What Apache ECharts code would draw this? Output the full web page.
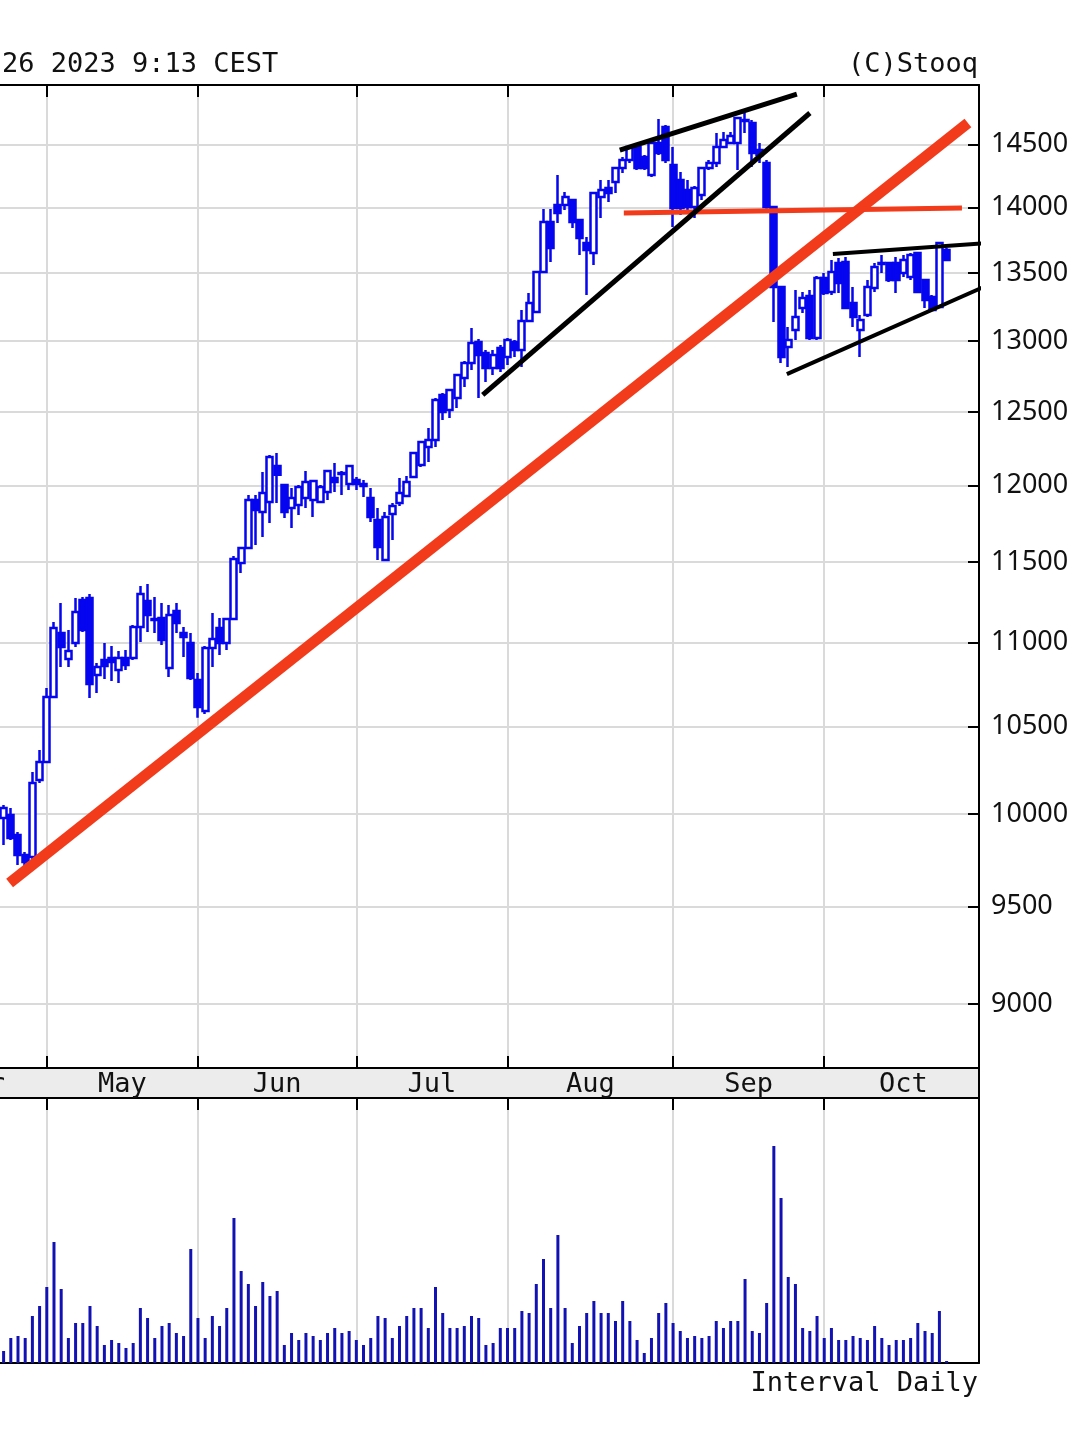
<!DOCTYPE html>
<html><head><meta charset="utf-8">
<script src="https://cdn.jsdelivr.net/npm/echarts@6/dist/echarts.min.js"></script>
<style>html,body{margin:0;padding:0;background:#fff}#c{width:1080px;height:1447px}</style>
</head><body><div id="c"></div>
<script>
// ---------- data ----------
const dates = [
'04-21','04-24','04-25','04-26','04-27','04-28',
'05-02','05-04','05-05','05-08','05-09','05-10','05-11','05-12','05-15','05-16','05-17','05-18','05-19','05-22','05-23','05-24','05-25','05-26','05-29','05-30','05-31',
'06-01','06-02','06-05','06-06','06-07','06-08','06-09','06-12','06-13','06-14','06-15','06-16','06-19','06-20','06-21','06-22','06-23','06-26','06-27','06-28','06-29','06-30',
'07-03','07-04','07-05','07-06','07-07','07-10','07-11','07-12','07-13','07-14','07-17','07-18','07-19','07-20','07-21','07-24','07-25','07-26','07-27','07-28','07-31',
'08-01','08-02','08-03','08-04','08-07','08-08','08-09','08-10','08-11','08-14','08-15','08-16','08-17','08-18','08-21','08-22','08-23','08-24','08-25','08-28','08-29','08-30','08-31',
'09-01','09-04','09-05','09-06','09-07','09-08','09-11','09-12','09-13','09-14','09-15','09-18','09-19','09-20','09-21','09-22','09-25','09-26','09-27','09-28','09-29',
'10-02','10-04','10-05','10-06','10-09','10-10','10-11','10-12','10-13','10-16','10-17','10-18','10-19','10-20','10-23','10-24','10-25','10-26',
'10-27','10-30','10-31','11-01'];

const open = [
9979,9996,9886,9777,9766,10192,10294,10672,11058,10899,
10997,11262,11274,10803,10893,10905,10833,10905,10905,11094,
11256,11143,11150,10845,11193,11058,10997,10773,10589,10966,
11088,10997,11143,11495,11591,11904,11825,11891,12131,12004,
11851,11871,11917,11904,11891,11957,12050,12084,12010,12037,
12010,11917,11773,11514,11812,11884,11930,12057,12137,12259,
12307,12618,12513,12597,12737,12844,12995,12915,12808,12951,
12886,12995,12937,13147,13212,13509,13889,14020,14020,14059,
13904,13727,13652,14082,14153,14200,14311,14374,14478,14398,
14255,14511,14640,14334,14216,14137,14005,14098,14311,14350,
14478,14511,14511,14697,14672,14454,14350,14005,13397,12959,
13081,13241,13330,13023,13464,13359,13576,13584,13278,13081,
13190,13389,13576,13576,13576,13501,13471,13652,13449,13322,
13249,13674];
const close = [
10034,9869,9777,9738,10175,10294,10672,11088,10972,10948,
11187,11076,10749,10851,10857,10881,10905,10863,11094,11299,
11168,11137,11015,11168,11119,11033,10785,10613,10966,11021,
10997,11143,11520,11591,11904,11838,11950,12191,12071,11825,
11917,11990,12024,12030,11990,12097,12024,12077,12131,12010,
11997,11793,11598,11793,11864,11950,12024,12218,12293,12307,
12583,12499,12653,12759,12844,12987,12901,12808,12901,12808,
13009,12937,13147,13278,13509,13889,13689,13958,14082,13889,
13765,13674,14114,14137,14114,14311,14374,14478,14311,14311,
14511,14430,14374,13997,13997,14005,14153,14311,14350,14478,
14535,14567,14713,14689,14430,14414,14005,13397,12886,13009,
13176,13315,13023,13464,13352,13509,13426,13241,13176,13154,
13397,13546,13569,13449,13449,13599,13636,13359,13300,13227,
13727,13599];
const low = [
9831,9858,9722,9706,9749,10175,10290,10665,10851,10851,
10972,11064,10666,10695,10779,10767,10755,10833,10893,11003,
11064,11058,10984,10791,11058,10911,10773,10549,10572,10851,
10923,10954,11137,11432,11585,11610,11662,11753,11884,11786,
11720,11806,11851,11793,11884,11904,11957,11937,11970,11970,
11924,11760,11514,11508,11643,11864,11924,12050,12124,12158,
12259,12444,12458,12527,12674,12794,12597,12709,12758,12780,
12829,12886,12815,13140,13205,13500,13584,13881,13981,13842,
13637,13337,13561,13919,14043,14114,14271,14350,14295,14295,
14240,14414,14350,13850,13943,13981,13919,14059,14295,14319,
14470,14503,14295,14591,14319,14350,13990,13139,12844,12815,
13009,13205,13009,13009,13337,13337,13352,13234,13103,12886,
13176,13359,13501,13434,13352,13471,13449,13352,13241,13220,
13240,13595];
const high = [
10051,10034,9902,9793,10237,10363,10725,11125,11243,11076,
11274,11281,11299,10875,10997,10978,10948,10954,11106,11349,
11362,11281,11243,11231,11243,11094,11058,10815,10978,11181,
11150,11150,11540,11598,11937,11937,12091,12205,12218,12010,
11984,12004,12097,12037,12004,12104,12151,12097,12138,12057,
12037,11984,11851,11825,11884,12050,12064,12225,12300,12389,
12597,12632,12660,12765,12858,13096,13016,12937,12937,12973,
13023,13009,13227,13352,13515,13989,13989,14255,14122,14067,
13912,13773,14120,14216,14216,14318,14398,14494,14494,14414,
14519,14705,14656,14478,14279,14216,14169,14318,14374,14591,
14599,14599,14721,14754,14697,14511,14374,14010,13400,13103,
13374,13359,13374,13479,13501,13599,13614,13621,13397,13190,
13449,13576,13636,13584,13621,13636,13652,13659,13455,13337,
13735,13689];
// relative daily volume
const volume = [
12,25,27,25,47,57,76,121,74,25,
40,40,57,37,18,23,20,15,20,55,
45,25,37,40,30,27,114,45,25,47,
37,55,145,92,79,57,81,67,72,18,
30,23,30,27,23,30,35,30,32,23,
18,25,47,45,25,37,47,55,55,35,
76,50,35,35,37,47,45,18,20,35,
35,35,52,50,79,104,55,128,55,20,
37,50,62,50,50,42,62,42,23,10,
25,50,60,40,32,25,27,25,27,42,
35,42,42,84,32,30,60,217,165,86,
79,35,32,47,25,35,23,23,27,25,
23,37,25,18,23,23,25,40,32,30,
52,2];

const priceTicks = [9000,9500,10000,10500,11000,11500,12000,12500,13000,13500,14000,14500];
const monthStartIdx = [6,27,49,70,93,114];
const monthNames = ['Apr','May','Jun','Jul','Aug','Sep','Oct'];
const monthMidIdx = [-3.5,16.5,38,59.5,81.5,103.5,125];

// hand-drawn trend lines: [day index, price]
const redTrend   = [[0.83,9626],[133.96,14672]];
const redLevel   = [[86.16,13958],[133.13,13997]];
const blackRise  = [[66.56,12618],[112.01,14754]];
const blackTop   = [[85.6,14454],[110.2,14910]];
const blackOctHi = [[115.2,13644],[137.02,13728]];
const blackOctLo = [[108.81,12765],[136.74,13411]];

// ---------- chart ----------
const L = v => Math.log10(v);
const N = dates.length;
const BLUE = '#0505f0';
const GRIDC = '#dadada';
const mono = 'DejaVu Sans Mono';

const candles = open.map((o,i)=>[L(o),L(close[i]),L(low[i]),L(high[i])]);
const line = (pts,color,w)=>({type:'line',xAxisIndex:1,yAxisIndex:0,data:pts.map(p=>[p[0],L(p[1])]),
  symbol:'none',clip:false,silent:true,z:10,lineStyle:{color:color,width:w,cap:'butt'}});

const blackLine = {show:true,onZero:false,lineStyle:{color:'#000',width:2}};

const chart = echarts.init(document.getElementById('c'),null,{renderer:'canvas'});
chart.setOption({
  animation:false,
  backgroundColor:'#fff',
  title:[
    {text:'26 2023 9:13 CEST',left:2,top:51,padding:0,textStyle:{fontFamily:mono,fontSize:27,fontWeight:'normal',color:'#111'}},
    {text:'(C)Stooq',right:102,top:51,padding:0,textStyle:{fontFamily:mono,fontSize:27,fontWeight:'normal',color:'#111'}},
    {text:'Interval Daily',right:102,top:1370,padding:0,textStyle:{fontFamily:mono,fontSize:27,fontWeight:'normal',color:'#111'}}
  ],
  grid:[
    {left:0,right:101,top:85,height:983},
    {left:0,right:101,top:1068,height:30,show:true,backgroundColor:'#ececec',borderWidth:0},
    {left:0,right:101,top:1098,height:265}
  ],
  xAxis:[
    {type:'category',gridIndex:0,position:'bottom',data:dates,boundaryGap:true,
     axisLine:blackLine,
     axisTick:{show:true,inside:true,length:12,alignWithLabel:true,interval:(i)=>monthStartIdx.includes(i),lineStyle:{color:'#000',width:2}},
     axisLabel:{show:false},splitLine:{show:false}},
    {type:'value',gridIndex:0,position:'top',min:-0.5,max:N-0.5,
     axisLine:blackLine,
     axisTick:{show:true,inside:true,length:12,customValues:monthStartIdx,lineStyle:{color:'#000',width:2}},
     axisLabel:{show:false},
     splitLine:{show:true,customValues:monthStartIdx,lineStyle:{color:GRIDC,width:2}}},
    {type:'value',gridIndex:1,position:'bottom',min:-0.5,max:N-0.5,
     axisLine:{show:false},axisTick:{show:false},splitLine:{show:false},
     axisLabel:{show:true,inside:true,margin:13,verticalAlign:'middle',customValues:monthMidIdx,
       fontFamily:mono,fontSize:27,color:'#111',
       formatter:(v)=>{const k=monthMidIdx.findIndex(m=>Math.abs(m-v)<0.01);return k>=0?monthNames[k]:'';}}},
    {type:'category',gridIndex:2,position:'bottom',data:dates,boundaryGap:true,
     axisLine:blackLine,axisTick:{show:false},axisLabel:{show:false},splitLine:{show:false}},
    {type:'value',gridIndex:2,position:'top',min:-0.5,max:N-0.5,
     axisLine:blackLine,
     axisTick:{show:true,inside:true,length:12,customValues:monthStartIdx,lineStyle:{color:'#000',width:2}},
     axisLabel:{show:false},
     splitLine:{show:true,customValues:monthStartIdx,lineStyle:{color:GRIDC,width:2}}}
  ],
  yAxis:[
    {type:'value',gridIndex:0,position:'right',min:L(8687),max:L(14985),
     axisLine:blackLine,
     axisTick:{show:true,inside:true,length:11,customValues:priceTicks.map(L),lineStyle:{color:'#000',width:2}},
     axisLabel:{show:true,margin:12,customValues:priceTicks.map(L),fontFamily:'Noto Sans',fontSize:27,color:'#111',
       formatter:(v)=>String(Math.round(Math.pow(10,v)))},
     splitLine:{show:true,customValues:priceTicks.map(L),lineStyle:{color:GRIDC,width:2}}},
    {type:'value',gridIndex:1,position:'right',axisLine:blackLine,axisTick:{show:false},axisLabel:{show:false},splitLine:{show:false}},
    {type:'value',gridIndex:2,position:'right',min:0,max:265,axisLine:blackLine,axisTick:{show:false},axisLabel:{show:false},splitLine:{show:false}}
  ],
  graphic:[
    {type:'text',x:5,y:1085,style:{text:'Apr',align:'right',verticalAlign:'middle',font:'27px "DejaVu Sans Mono"',fill:'#111'}}
  ],
  series:[
    {type:'candlestick',xAxisIndex:0,yAxisIndex:0,data:candles,barWidth:6.5,z:5,
     itemStyle:{color:'#ffffff',color0:BLUE,borderColor:BLUE,borderColor0:BLUE,borderWidth:2.5}},
    {type:'bar',xAxisIndex:3,yAxisIndex:2,data:volume,barWidth:3,itemStyle:{color:'#1212b4'}},
    line(redTrend,'#f23b1b',11),
    line(redLevel,'#f23b1b',5),
    line(blackRise,'#000',5),
    line(blackTop,'#000',5),
    line(blackOctHi,'#000',4),
    line(blackOctLo,'#000',4)
  ]
});
</script></body></html>
